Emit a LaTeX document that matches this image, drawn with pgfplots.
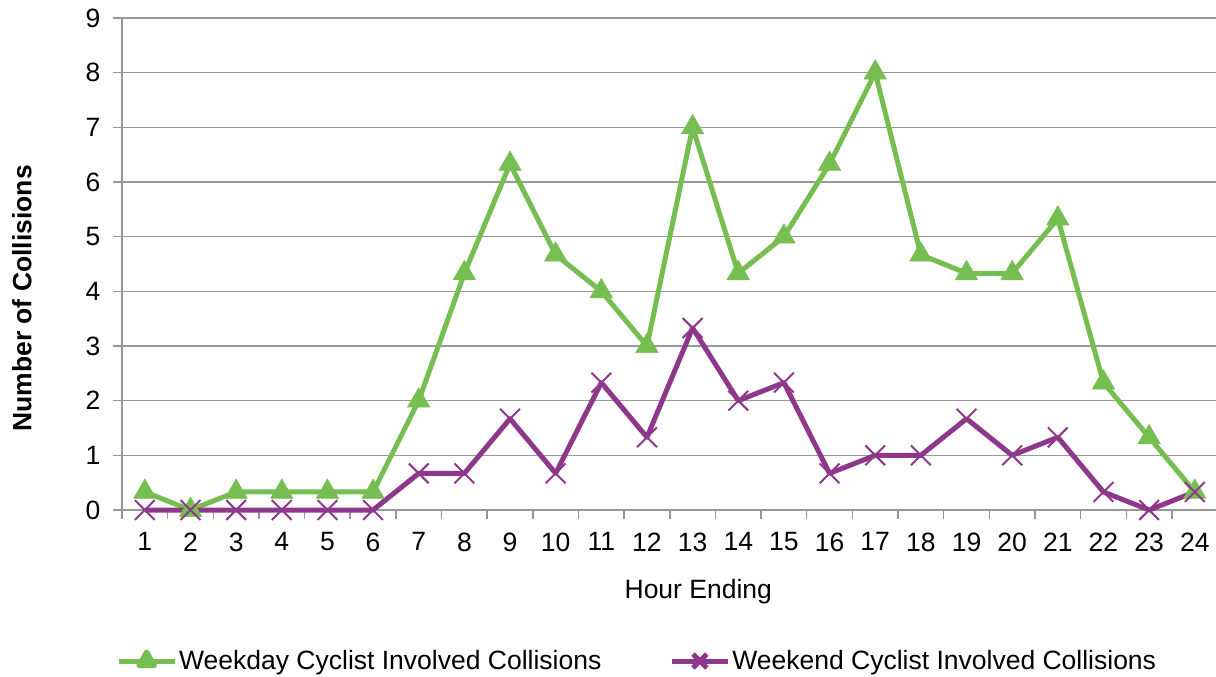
\documentclass[border=0pt]{standalone}
\usepackage{fontspec}
\setmainfont{Liberation Sans}
\usepackage{pgfplots}
\pgfplotsset{compat=1.18}
\definecolor{wkday}{RGB}{119,190,82}
\definecolor{wkend}{RGB}{142,56,140}
\definecolor{gridgray}{RGB}{152,152,152}
\newcommand{\fs}{\fontsize{26.5bp}{32bp}\selectfont}
\begin{document}
\begin{tikzpicture}
\path[use as bounding box] (-122bp,-167bp) rectangle (1094bp,510bp);
\begin{axis}[
  at={(0,0)}, anchor=south west,
  scale only axis, width=1095.6bp, height=492bp,
  xmin=0.5, xmax=24.5, ymin=0, ymax=9,
  axis x line*=bottom, axis y line*=left,
  axis line style={gridgray, line width=1.5bp},
  xtick={0.5,1.5,...,24.5}, xticklabels={},
  extra x ticks={1,2,...,24}, extra x tick style={major tick length=0pt},
  ytick={0,1,...,9},
  tick align=outside, major tick length=9bp,
  tick style={gridgray, line width=1.5bp},
  ymajorgrids, grid style={gridgray, line width=1.5bp},
  ticklabel style={font=\fs},
  xticklabel style={yshift=-19bp},
  yticklabel style={xshift=-9bp},
  /pgf/number format/assume math mode=true,
  clip=false,
  xlabel={Hour Ending},
  xlabel style={at={(axis description cs:0.526,-0.1667)}, anchor=center, font=\fs},
  ylabel={Number of Collisions},
  ylabel style={at={(axis description cs:-0.0913,0.43)}, anchor=center, font=\fs\bfseries},
  legend columns=2,
  legend cell align=left,
  legend style={at={(axis description cs:-0.0055,-0.307)}, anchor=west, draw=none, fill=none,
    font=\fs, inner sep=0pt, nodes={inner sep=2bp},
    /tikz/every even column/.append style={column sep=66bp}},
  legend image code/.code={
    \draw[#1] (0bp,0bp) -- (56bp,0bp);
    \draw[#1, mark options={scale=0.7}] plot coordinates {(28bp,0bp)};
  },
]
\addplot[wkday, line width=5bp, line join=round, mark=triangle*, mark size=13bp,
  mark options={solid, fill=wkday, line width=0.5bp}] coordinates {
(1,0.33) (2,0) (3,0.33) (4,0.33) (5,0.33) (6,0.33) (7,2) (8,4.33) (9,6.33) (10,4.67)
(11,4) (12,3) (13,7) (14,4.33) (15,5) (16,6.33) (17,8) (18,4.67) (19,4.33) (20,4.33)
(21,5.33) (22,2.33) (23,1.33) (24,0.33)};
\addlegendentry{Weekday Cyclist Involved Collisions}
\addplot[wkend, line width=5bp, line join=round, mark=x, mark size=14bp,
  mark options={solid, line width=2bp}] coordinates {
(1,0) (2,0) (3,0) (4,0) (5,0) (6,0) (7,0.67) (8,0.67) (9,1.67) (10,0.67)
(11,2.33) (12,1.33) (13,3.33) (14,2) (15,2.33) (16,0.67) (17,1) (18,1) (19,1.67) (20,1)
(21,1.33) (22,0.33) (23,0) (24,0.33)};
\addlegendentry{Weekend Cyclist Involved Collisions}
\end{axis}
\end{tikzpicture}
\end{document}
